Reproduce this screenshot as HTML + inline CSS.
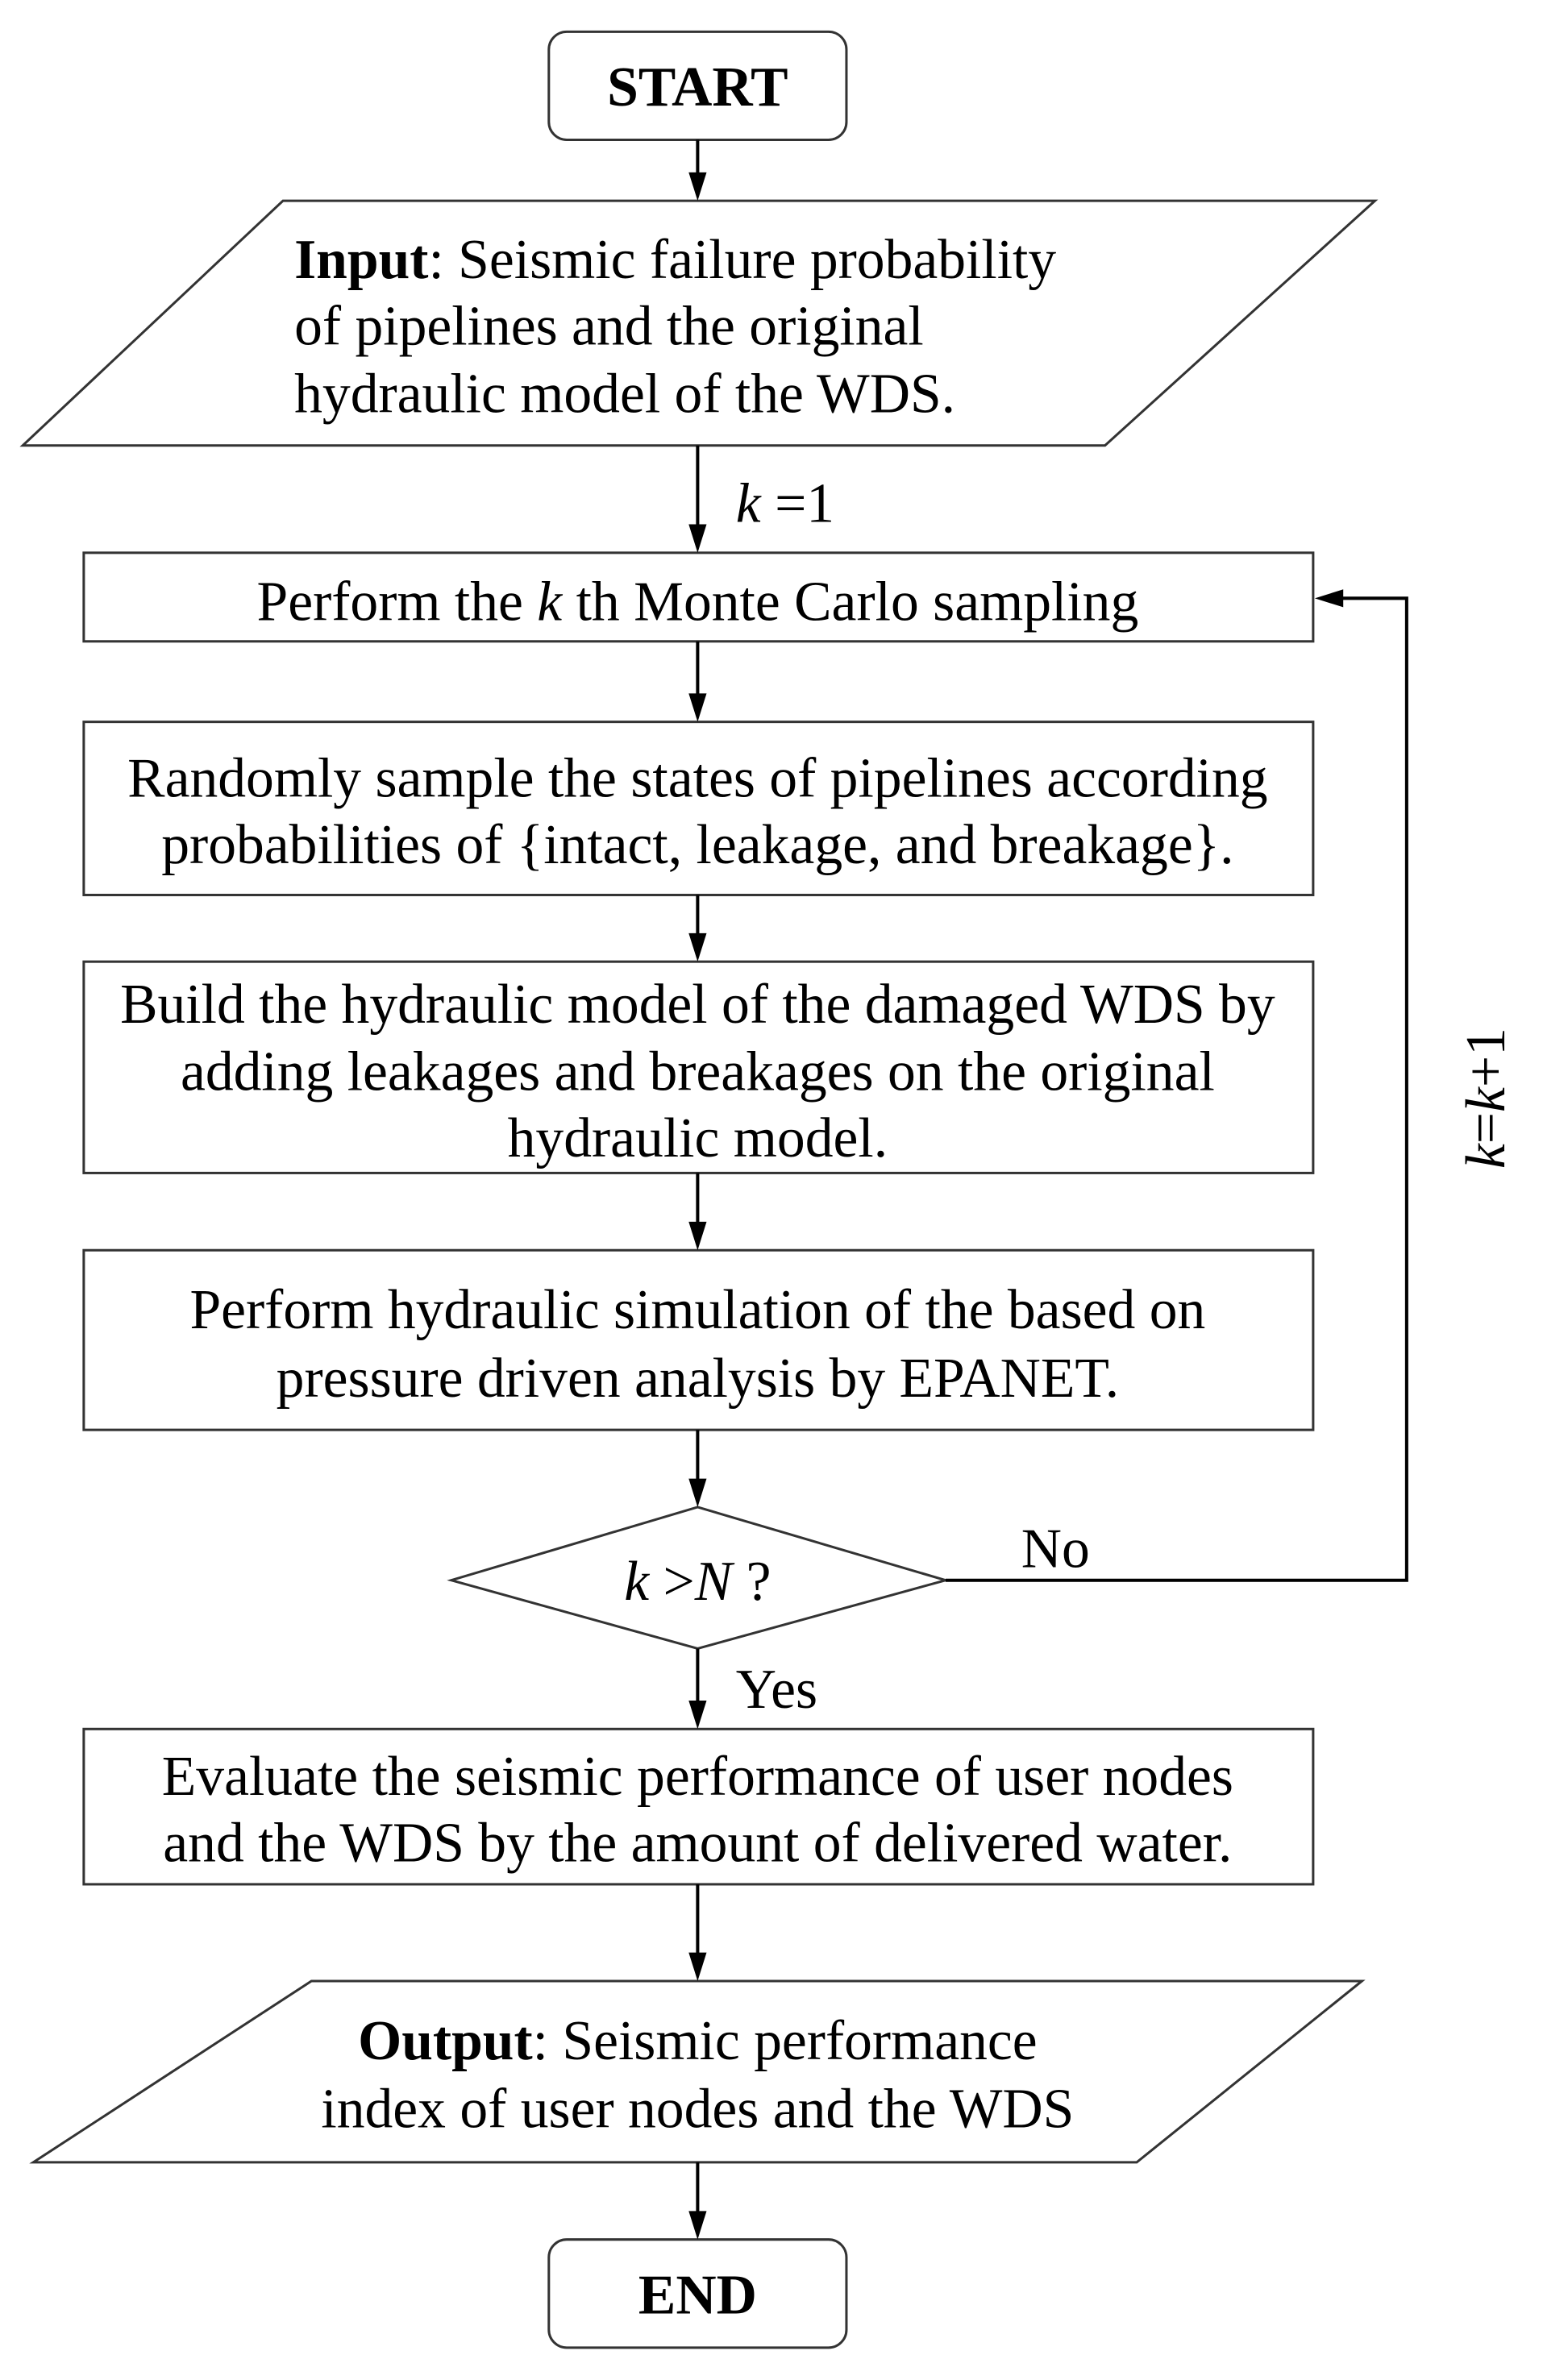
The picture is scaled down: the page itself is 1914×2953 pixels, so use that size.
<!DOCTYPE html>
<html><head><meta charset="utf-8"><style>
html,body{margin:0;padding:0;background:#fff;}
svg{display:block;}
text{font-family:"Liberation Serif",serif;font-size:69px;fill:#000;}
.b{stroke:#333;stroke-width:3;fill:#fff;}
</style></head><body>
<svg width="1914" height="2953" viewBox="0 0 1914 2953" xmlns="http://www.w3.org/2000/svg">
<g transform="scale(1.0086)">
<rect class="b" x="675" y="39" width="366" height="133" rx="22"/>
<polygon class="b" points="348,247 1691,247 1359,548 28,548"/>
<rect class="b" x="103" y="680" width="1512" height="109"/>
<rect class="b" x="103" y="888" width="1512" height="213"/>
<rect class="b" x="103" y="1183" width="1512" height="260"/>
<rect class="b" x="103" y="1538" width="1512" height="221"/>
<polygon class="b" points="858,1854 1163,1944 858,2028 555,1944"/>
<rect class="b" x="103" y="2127" width="1512" height="191"/>
<polygon class="b" points="383,2437 1675,2437 1398,2660 41,2660"/>
<rect class="b" x="675" y="2755" width="366" height="133" rx="22"/>
<g stroke="#000" stroke-width="4">
<line x1="858" y1="172" x2="858" y2="214"/>
<line x1="858" y1="548" x2="858" y2="647"/>
<line x1="858" y1="789" x2="858" y2="855"/>
<line x1="858" y1="1101" x2="858" y2="1150"/>
<line x1="858" y1="1443" x2="858" y2="1505"/>
<line x1="858" y1="1759" x2="858" y2="1821"/>
<line x1="858" y1="2028" x2="858" y2="2094"/>
<line x1="858" y1="2318" x2="858" y2="2404"/>
<line x1="858" y1="2660" x2="858" y2="2722"/>
<polyline fill="none" points="1163,1944 1730,1944 1730,736 1650,736"/>
</g>
<g fill="#000">
<path d="M847,212 L869,212 L858,247 Z"/>
<path d="M847,645 L869,645 L858,680 Z"/>
<path d="M847,853 L869,853 L858,888 Z"/>
<path d="M847,1148 L869,1148 L858,1183 Z"/>
<path d="M847,1503 L869,1503 L858,1538 Z"/>
<path d="M847,1819 L869,1819 L858,1854 Z"/>
<path d="M847,2092 L869,2092 L858,2127 Z"/>
<path d="M847,2402 L869,2402 L858,2437 Z"/>
<path d="M847,2720 L869,2720 L858,2755 Z"/>
<path d="M1652,725 L1652,747 L1617,736 Z"/>
</g>
<text x="858" y="130" text-anchor="middle" font-weight="bold">START</text>
<text x="362" y="342"><tspan font-weight="bold">Input</tspan>: Seismic failure probability</text>
<text x="362" y="424">of pipelines and the original</text>
<text x="362" y="507">hydraulic model of the WDS.</text>
<text x="905" y="642"><tspan font-style="italic">k</tspan> =1</text>
<text x="858" y="763" text-anchor="middle">Perform the <tspan font-style="italic">k</tspan> th Monte Carlo sampling</text>
<text x="858" y="980" text-anchor="middle">Randomly sample the states of pipelines according</text>
<text x="858" y="1062" text-anchor="middle">probabilities of {intact, leakage, and breakage}.</text>
<text x="858" y="1258" text-anchor="middle">Build the hydraulic model of the damaged WDS by</text>
<text x="858" y="1341" text-anchor="middle">adding leakages and breakages on the original</text>
<text x="858" y="1423" text-anchor="middle">hydraulic model.</text>
<text x="858" y="1634" text-anchor="middle">Perform hydraulic simulation of the based on</text>
<text x="858" y="1718" text-anchor="middle">pressure driven analysis by EPANET.</text>
<text x="858" y="1968" text-anchor="middle"><tspan font-style="italic">k</tspan> &gt;<tspan font-style="italic">N</tspan> ?</text>
<text x="1256" y="1928">No</text>
<text x="1850" y="1351" text-anchor="middle" transform="rotate(-90 1850 1351)"><tspan font-style="italic">k</tspan>=<tspan font-style="italic">k</tspan>+1</text>
<text x="905" y="2101">Yes</text>
<text x="858" y="2208" text-anchor="middle">Evaluate the seismic performance of user nodes</text>
<text x="858" y="2290" text-anchor="middle">and the WDS by the amount of delivered water.</text>
<text x="858" y="2533" text-anchor="middle"><tspan font-weight="bold">Output</tspan>: Seismic performance</text>
<text x="858" y="2617" text-anchor="middle">index of user nodes and the WDS</text>
<text x="858" y="2846" text-anchor="middle" font-weight="bold">END</text>
</g>
</svg>
</body></html>
